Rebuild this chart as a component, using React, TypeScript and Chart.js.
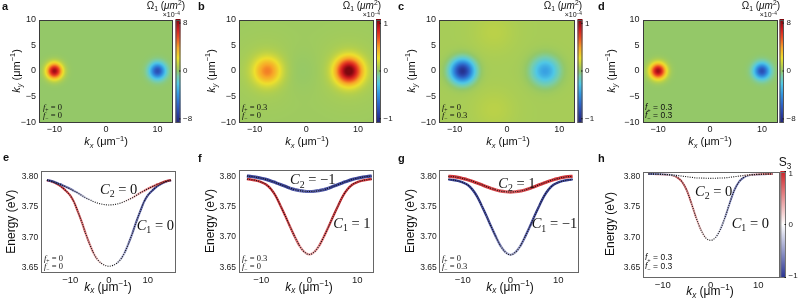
import React, { useEffect, useRef } from 'react';
import { Chart, registerables } from 'chart.js';
Chart.register(...registerables);

const SANS = '"Liberation Sans", Arial, Helvetica, sans-serif';
const SERIF = '"Liberation Serif", "Times New Roman", serif';

// ---------------- DATA ----------------
// Top row: Berry curvature maps (kx, ky in um^-1), blob centres / peaks (x1e-4 um^2) / widths
const hmXTicks = [-10, 0, 10];
const hmYTicks = [-10, -5, 0, 5, 10];

const aBlobKx = [-10, 10];
const aBlobKy = [0, 0];
const aBlobPeak = [8, -6.5];
const aBlobWidth = [1.5, 1.5];
const aBase = 0;
const aCbTicks = [8, 0, -8];

const bBlobKx = [-7.5, 8.3, -7.5, 8.3, -1];
const bBlobKy = [0, 0, 0, 0, 0];
const bBlobPeak = [0.5, 1.05, 0.05, 0.06, -0.04];
const bBlobWidth = [2.6, 2.5, 6, 6, 4];
const bBase = 0.03;
const bCbTicks = [1, 0, -1];

const cBlobKx = [-8.5, 7.3, -2.5, -2.5];
const cBlobKy = [0, 0, 7.5, -7.5];
const cBlobPeak = [-1.05, -0.5, 0.06, 0.06];
const cBlobWidth = [2.2, 2.6, 4, 4];
const cBase = 0.06;
const cCbTicks = [1, 0, -1];

const dBlobKx = [-10, 10];
const dBlobKy = [0, 0];
const dBlobPeak = [8, -6.5];
const dBlobWidth = [1.5, 1.5];
const dBase = 0;
const dCbTicks = [8, 0, -8];

// Bottom row: dispersion E(kx) in eV
const lnXTicks = [-10, 0, 10];
const lnYTicks = [3.65, 3.7, 3.75, 3.8];

const eKx = [-16, -15, -14, -13, -12, -11, -10, -9, -8, -7, -6, -5, -4, -3, -2, -1, 0, 1, 2, 3, 4, 5, 6, 7, 8, 9, 10, 11, 12, 13, 14, 15, 16];
const eUpper = [3.7945, 3.793, 3.791, 3.7885, 3.786, 3.783, 3.78, 3.7765, 3.773, 3.769, 3.765, 3.762, 3.759, 3.7565, 3.7548, 3.7537, 3.7533, 3.7537, 3.7548, 3.7565, 3.759, 3.762, 3.765, 3.769, 3.773, 3.7765, 3.78, 3.783, 3.786, 3.7885, 3.791, 3.793, 3.7945];
const eLower = [3.794, 3.7925, 3.79, 3.7865, 3.782, 3.776, 3.769, 3.758, 3.742, 3.725, 3.706, 3.689, 3.674, 3.6635, 3.657, 3.6535, 3.652, 3.6535, 3.657, 3.6635, 3.674, 3.689, 3.706, 3.725, 3.742, 3.758, 3.769, 3.776, 3.782, 3.7865, 3.79, 3.7925, 3.794];
const eUpperS3 = [-0.85, -0.85, -0.85, -0.8, -0.75, -0.7, -0.6, -0.5, -0.4, -0.3, -0.2, -0.1, -0.05, 0, 0, 0, 0, 0, 0, 0, 0.05, 0.1, 0.2, 0.3, 0.4, 0.5, 0.6, 0.7, 0.75, 0.8, 0.85, 0.85, 0.85];
const eLowerS3 = [0.85, 0.85, 0.85, 0.85, 0.85, 0.85, 0.8, 0.75, 0.7, 0.65, 0.6, 0.5, 0.4, 0.25, 0.1, 0, 0, 0, -0.1, -0.25, -0.4, -0.5, -0.6, -0.65, -0.7, -0.75, -0.8, -0.85, -0.85, -0.85, -0.85, -0.85, -0.85];

const fKx = [-13, -12, -11, -10, -9, -8, -7, -6, -5, -4, -3, -2, -1, 0, 1, 2, 3, 4, 5, 6, 7, 8, 9, 10, 11, 12, 13];
const fUpper = [3.801, 3.8003, 3.799, 3.7975, 3.7955, 3.793, 3.79, 3.787, 3.784, 3.781, 3.7785, 3.7768, 3.7758, 3.7755, 3.7758, 3.7768, 3.7785, 3.781, 3.784, 3.787, 3.79, 3.793, 3.7955, 3.7975, 3.799, 3.8003, 3.801];
const fLower = [3.796, 3.795, 3.7935, 3.791, 3.787, 3.7795, 3.768, 3.752, 3.735, 3.717, 3.7, 3.685, 3.675, 3.671, 3.675, 3.685, 3.7, 3.717, 3.735, 3.752, 3.768, 3.7795, 3.787, 3.791, 3.7935, 3.795, 3.796];
const fUpperS3 = [-0.9, -0.9, -0.9, -0.9, -0.9, -0.9, -0.9, -0.9, -0.9, -0.9, -0.85, -0.8, -0.75, -0.75, -0.75, -0.8, -0.85, -0.9, -0.9, -0.9, -0.9, -0.9, -0.9, -0.9, -0.9, -0.9, -0.9];
const fLowerS3 = [0.9, 0.9, 0.9, 0.9, 0.9, 0.9, 0.9, 0.9, 0.85, 0.8, 0.7, 0.55, 0.4, 0.35, 0.4, 0.55, 0.7, 0.8, 0.85, 0.9, 0.9, 0.9, 0.9, 0.9, 0.9, 0.9, 0.9];

const gKx = [-13, -12, -11, -10, -9, -8, -7, -6, -5, -4, -3, -2, -1, 0, 1, 2, 3, 4, 5, 6, 7, 8, 9, 10, 11, 12, 13];
const gUpper = [3.8005, 3.8, 3.7988, 3.797, 3.795, 3.7925, 3.7895, 3.7865, 3.7835, 3.7805, 3.778, 3.776, 3.775, 3.7745, 3.775, 3.776, 3.778, 3.7805, 3.7835, 3.7865, 3.7895, 3.7925, 3.795, 3.797, 3.7988, 3.8, 3.8005];
const gLower = [3.7955, 3.7945, 3.793, 3.7905, 3.7865, 3.779, 3.7675, 3.7515, 3.7345, 3.7165, 3.6995, 3.6845, 3.6745, 3.6705, 3.6745, 3.6845, 3.6995, 3.7165, 3.7345, 3.7515, 3.7675, 3.779, 3.7865, 3.7905, 3.793, 3.7945, 3.7955];
const gUpperS3 = [0.9, 0.9, 0.9, 0.9, 0.9, 0.9, 0.9, 0.9, 0.9, 0.9, 0.85, 0.8, 0.75, 0.75, 0.75, 0.8, 0.85, 0.9, 0.9, 0.9, 0.9, 0.9, 0.9, 0.9, 0.9, 0.9, 0.9];
const gLowerS3 = [-0.9, -0.9, -0.9, -0.9, -0.9, -0.9, -0.9, -0.9, -0.85, -0.8, -0.7, -0.55, -0.4, -0.35, -0.4, -0.55, -0.7, -0.8, -0.85, -0.9, -0.9, -0.9, -0.9, -0.9, -0.9, -0.9, -0.9];

const hKx = [-13, -12, -11, -10, -9, -8, -7, -6, -5, -4, -3, -2, -1, 0, 1, 2, 3, 4, 5, 6, 7, 8, 9, 10, 11, 12, 13];
const hUpper = [3.8045, 3.8045, 3.8043, 3.804, 3.8035, 3.803, 3.802, 3.801, 3.8, 3.799, 3.798, 3.7978, 3.7975, 3.7973, 3.7975, 3.7978, 3.798, 3.799, 3.8, 3.801, 3.802, 3.803, 3.8035, 3.804, 3.8043, 3.8045, 3.8045];
const hLower = [3.8045, 3.8043, 3.804, 3.8037, 3.8032, 3.8022, 3.799, 3.792, 3.778, 3.756, 3.732, 3.712, 3.699, 3.695, 3.699, 3.712, 3.732, 3.756, 3.778, 3.792, 3.799, 3.8022, 3.8032, 3.8037, 3.804, 3.8043, 3.8045];
const hUpperS3 = [-0.7, -0.6, -0.5, -0.4, -0.3, -0.2, -0.1, 0, 0, 0, 0, 0, 0, 0, 0, 0, 0, 0, 0, 0, 0.1, 0.2, 0.3, 0.4, 0.5, 0.6, 0.6];
const hLowerS3 = [0.5, 0.5, 0.5, 0.5, 0.55, 0.6, 0.65, 0.65, 0.6, 0.5, 0.35, 0.2, 0.05, 0, -0.05, -0.2, -0.35, -0.5, -0.6, -0.65, -0.65, -0.6, -0.55, -0.5, -0.5, -0.5, -0.5];
const s3CbTicks = [1, 0, -1];

// ---------------- STYLE HELPERS ----------------
type Seg = { t: string; i?: boolean; s?: 'sub' | 'sup' };
type TextItem = { segs: Seg[]; x: number; y: number; size: number; family?: string; bold?: boolean; align?: 'left' | 'center' | 'right'; rot?: number; color?: string };

function drawRich(ctx: CanvasRenderingContext2D, it: TextItem, ox: number, oy: number) {
  const fam = it.family || SANS;
  const fontOf = (s: Seg) => `${s.i ? 'italic ' : ''}${it.bold ? 'bold ' : ''}${s.s ? it.size * 0.68 : it.size}px ${fam}`;
  ctx.save();
  ctx.translate(it.x - ox, it.y - oy);
  if (it.rot) ctx.rotate(it.rot);
  let w = 0;
  const ws = it.segs.map((s) => { ctx.font = fontOf(s); const m = ctx.measureText(s.t).width; w += m; return m; });
  let cx = it.align === 'center' ? -w / 2 : it.align === 'right' ? -w : 0;
  ctx.textBaseline = 'alphabetic';
  ctx.fillStyle = it.color || '#111';
  const base = it.size * 0.35;
  it.segs.forEach((s, k) => {
    ctx.font = fontOf(s);
    const dy = s.s === 'sub' ? it.size * 0.22 : s.s === 'sup' ? -it.size * 0.4 : 0;
    ctx.fillText(s.t, cx, base + dy);
    cx += ws[k];
  });
  ctx.restore();
}

const JET: [number, number[]][] = [
  [-1.0, [35, 38, 120]],
  [-0.85, [40, 60, 160]],
  [-0.65, [45, 100, 200]],
  [-0.45, [50, 150, 225]],
  [-0.25, [80, 200, 230]],
  [-0.1, [120, 205, 170]],
  [0.0, [148, 200, 104]],
  [0.1, [182, 208, 75]],
  [0.25, [238, 224, 45]],
  [0.45, [248, 165, 40]],
  [0.65, [235, 75, 35]],
  [0.82, [205, 25, 30]],
  [1.0, [125, 8, 15]],
];
function jet(t: number): number[] {
  t = Math.max(-1, Math.min(1, t));
  for (let k = 0; k < JET.length - 1; k++) {
    const [t0, c0] = JET[k];
    const [t1, c1] = JET[k + 1];
    if (t <= t1) {
      const f = (t - t0) / (t1 - t0);
      return [0, 1, 2].map((j) => Math.round(c0[j] + (c1[j] - c0[j]) * f));
    }
  }
  return JET[JET.length - 1][1];
}
function s3Rgb(v: number): number[] {
  const a = Math.min(1, Math.abs(v));
  const end = v >= 0 ? [205, 35, 40] : [40, 50, 145];
  return [0, 1, 2].map((k) => Math.round(255 + (end[k] - 255) * a));
}
const s3Color = (v: number) => `rgb(${s3Rgb(v).join(',')})`;
const fmtNum = (v: number) => (v < 0 ? '\u2212' + Math.abs(v) : String(v));

const kxTitle: Seg[] = [{ t: 'k', i: true }, { t: 'x', i: true, s: 'sub' }, { t: ' (\u03bcm' }, { t: '\u22121', s: 'sup' }, { t: ')' }];
const kyTitle: Seg[] = [{ t: 'k', i: true }, { t: 'y', i: true, s: 'sub' }, { t: ' (\u03bcm' }, { t: '\u22121', s: 'sup' }, { t: ')' }];
const omegaTitle: Seg[] = [{ t: '\u03a9' }, { t: '1', s: 'sub' }, { t: ' (' }, { t: '\u03bcm', i: true }, { t: '2', s: 'sup' }, { t: ')' }];
const expTitle: Seg[] = [{ t: '\u00d710' }, { t: '\u22124', s: 'sup' }];
const fp = (v: string): Seg[] => [{ t: 'f', i: true }, { t: '+', s: 'sub' }, { t: ' = ' + v }];
const fm = (v: string): Seg[] => [{ t: 'f', i: true }, { t: '\u2212', s: 'sub' }, { t: ' = ' + v }];
const cLab = (n: string, v: string): Seg[] => [{ t: 'C', i: true }, { t: n, s: 'sub' }, { t: ' = ' + v }];

type Box = { x: number; y: number; w: number; h: number };
type Area = { l: number; t: number; r: number; b: number };

function axisCommon(ticks: number[], fmt: (v: number) => string, size: number, pad: number, fit: (s: any) => void, min: number, max: number) {
  return {
    type: 'linear' as const,
    min,
    max,
    afterBuildTicks: (s: any) => { s.ticks = ticks.map((v) => ({ value: v })); },
    afterFit: fit,
    ticks: { callback: (v: any) => fmt(Number(v)), font: { family: SANS, size }, color: '#1a1a1a', padding: pad, maxRotation: 0, autoSkip: false },
    grid: { display: false, drawTicks: false },
    border: { display: false },
  };
}

// ---------------- HEATMAP PANELS ----------------
type HeatPanel = {
  box: Box; area: Area; kx: number[]; ky: number[]; peak: number[]; width: number[]; base: number;
  cbRange: number; cbTicks: number[]; cbL: number; cbR: number; texts: TextItem[];
};

function heatConfig(p: HeatPanel) {
  const { box, area } = p;
  const plugin = {
    id: 'heat',
    beforeDatasetsDraw(chart: any) {
      const ca = chart.chartArea;
      const ctx: CanvasRenderingContext2D = chart.ctx;
      const w = Math.round(ca.right - ca.left);
      const h = Math.round(ca.bottom - ca.top);
      const off = document.createElement('canvas');
      off.width = w; off.height = h;
      const octx = off.getContext('2d')!;
      const img = octx.createImageData(w, h);
      const xs = chart.scales.x, ys = chart.scales.y;
      const pts = chart.data.datasets[0].data as { x: number; y: number }[];
      for (let j = 0; j < h; j++) {
        const ky = ys.getValueForPixel(ca.top + j + 0.5);
        for (let i = 0; i < w; i++) {
          const kx = xs.getValueForPixel(ca.left + i + 0.5);
          let v = p.base;
          pts.forEach((pt, k) => {
            const r2 = (kx - pt.x) ** 2 + (ky - pt.y) ** 2;
            v += p.peak[k] * Math.exp(-r2 / (p.width[k] * p.width[k]));
          });
          const c = jet(v / p.cbRange);
          const o = (j * w + i) * 4;
          img.data[o] = c[0]; img.data[o + 1] = c[1]; img.data[o + 2] = c[2]; img.data[o + 3] = 255;
        }
      }
      octx.putImageData(img, 0, 0);
      ctx.drawImage(off, ca.left, ca.top, ca.right - ca.left, ca.bottom - ca.top);
    },
    afterDraw(chart: any) {
      const ca = chart.chartArea;
      const ctx: CanvasRenderingContext2D = chart.ctx;
      ctx.save();
      ctx.strokeStyle = '#3a3a3a';
      ctx.lineWidth = 1;
      ctx.strokeRect(Math.round(ca.left) + 0.5, Math.round(ca.top) + 0.5, Math.round(ca.right - ca.left) - 1, Math.round(ca.bottom - ca.top) - 1);
      // colorbar
      const cl = p.cbL - box.x, cr = p.cbR - box.x;
      const top = ca.top, bot = ca.bottom;
      for (let yy = Math.floor(top); yy < bot; yy++) {
        const t = 1 - (yy + 0.5 - top) / (bot - top);
        const c = jet(t * 2 - 1);
        ctx.fillStyle = `rgb(${c.join(',')})`;
        ctx.fillRect(cl, yy, cr - cl, 1);
      }
      ctx.strokeStyle = '#555';
      ctx.strokeRect(cl + 0.5, Math.round(top) + 0.5, cr - cl - 1, Math.round(bot - top) - 1);
      ctx.fillStyle = '#1a1a1a';
      ctx.font = `8px ${SANS}`;
      ctx.textBaseline = 'middle';
      ctx.textAlign = 'left';
      p.cbTicks.forEach((v) => {
        const yy = bot - ((v / p.cbRange + 1) / 2) * (bot - top);
        ctx.fillRect(cr - 1.5, yy - 0.5, 1.5, 1);
        ctx.fillText(fmtNum(v), cr + 2.5, yy);
      });
      ctx.restore();
      p.texts.forEach((t) => drawRich(ctx, t, box.x, box.y));
    },
  };
  return {
    type: 'scatter' as const,
    data: { datasets: [{ data: p.kx.map((x, i) => ({ x, y: p.ky[i] })), pointRadius: 0, showLine: false }] },
    options: {
      animation: false as const,
      responsive: false,
      events: [],
      layout: { padding: { left: 0, top: area.t - box.y, right: box.x + box.w - area.r, bottom: 0 } },
      scales: {
        x: axisCommon(hmXTicks, fmtNum, 9, 2, (s: any) => { s.height = box.y + box.h - area.b; }, -13, 13),
        y: axisCommon(hmYTicks, fmtNum, 9, 3, (s: any) => { s.width = area.l - box.x; }, -10, 10),
      },
      plugins: { legend: { display: false }, tooltip: { enabled: false } },
    },
    plugins: [plugin],
  };
}

// ---------------- LINE PANELS ----------------
type LinePanel = {
  box: Box; area: Area; xMin: number; xMax: number; yMin: number; yMax: number;
  kx: number[]; upper: number[]; lower: number[]; upperS3: number[]; lowerS3: number[];
  wU: number; wL: number; texts: TextItem[]; cb?: { l: number; r: number };
};

function lineConfig(p: LinePanel) {
  const { box, area } = p;
  const mk = (ys: number[]) => p.kx.map((x, i) => ({ x, y: ys[i] }));
  const colored = (ys: number[], s3: number[], w: number) => ({
    data: mk(ys),
    borderWidth: w,
    borderColor: s3Color(s3[0]),
    segment: { borderColor: (ctx: any) => s3Color((s3[ctx.p0DataIndex] + s3[ctx.p1DataIndex]) / 2) },
    pointRadius: 0,
    cubicInterpolationMode: 'monotone' as const,
    fill: false,
  });
  const dotted = (ys: number[]) => ({
    data: mk(ys),
    borderWidth: 1.1,
    borderColor: '#111',
    borderDash: [1, 1.3],
    pointRadius: 0,
    cubicInterpolationMode: 'monotone' as const,
    fill: false,
  });
  const plugin = {
    id: 'lineOverlay',
    afterDraw(chart: any) {
      const ca = chart.chartArea;
      const ctx: CanvasRenderingContext2D = chart.ctx;
      ctx.save();
      ctx.strokeStyle = '#666';
      ctx.lineWidth = 1;
      ctx.strokeRect(Math.round(ca.left) + 0.5, Math.round(ca.top) + 0.5, Math.round(ca.right - ca.left) - 1, Math.round(ca.bottom - ca.top) - 1);
      if (p.cb) {
        const cl = p.cb.l - box.x, cr = p.cb.r - box.x;
        const top = ca.top, bot = ca.bottom;
        for (let yy = Math.floor(top); yy < bot; yy++) {
          const t = 1 - (yy + 0.5 - top) / (bot - top);
          ctx.fillStyle = s3Color(t * 2 - 1);
          ctx.fillRect(cl, yy, cr - cl, 1);
        }
        ctx.strokeStyle = '#777';
        ctx.strokeRect(cl + 0.5, Math.round(top) + 0.5, cr - cl - 1, Math.round(bot - top) - 1);
        ctx.fillStyle = '#1a1a1a';
        ctx.font = `8px ${SANS}`;
        ctx.textBaseline = 'middle';
        ctx.textAlign = 'left';
        s3CbTicks.forEach((v) => {
          const yy = bot - ((v + 1) / 2) * (bot - top);
          ctx.fillRect(cr - 1.5, yy - 0.5, 1.5, 1);
          ctx.fillText(fmtNum(v), cr + 2.5, Math.min(bot - 2, Math.max(top + 2, yy)));
        });
      }
      ctx.restore();
      p.texts.forEach((t) => drawRich(ctx, t, box.x, box.y));
    },
  };
  // Chart.js draws dataset 0 last (on top): put dotted overlays first.
  return {
    type: 'line' as const,
    data: {
      datasets: [
        dotted(p.upper),
        dotted(p.lower),
        colored(p.upper, p.upperS3, p.wU),
        colored(p.lower, p.lowerS3, p.wL),
      ],
    },
    options: {
      animation: false as const,
      responsive: false,
      events: [],
      layout: { padding: { left: 0, top: area.t - box.y, right: box.x + box.w - area.r, bottom: 0 } },
      scales: {
        x: axisCommon(lnXTicks, fmtNum, 9.5, 2, (s: any) => { s.height = box.y + box.h - area.b; }, p.xMin, p.xMax),
        y: axisCommon(lnYTicks, (v) => v.toFixed(2), 8.5, 2.5, (s: any) => { s.width = area.l - box.x; }, p.yMin, p.yMax),
      },
      plugins: { legend: { display: false }, tooltip: { enabled: false } },
    },
    plugins: [plugin],
  };
}

// ---------------- PANEL LAYOUT ----------------
const letter = (t: string, x: number, y: number): TextItem => ({ segs: [{ t }], x, y, size: 11, bold: true });
const TT = 11; // top axis title size
const BT = 12; // bottom axis title size

const heatPanels: HeatPanel[] = [
  {
    box: { x: 0, y: 0, w: 197, h: 150 }, area: { l: 39, t: 19.5, r: 173, b: 122.5 },
    kx: aBlobKx, ky: aBlobKy, peak: aBlobPeak, width: aBlobWidth, base: aBase, cbRange: 8.6, cbTicks: aCbTicks, cbL: 175.5, cbR: 180.5,
    texts: [
      letter('a', 2, 6),
      { segs: kyTitle, x: 16, y: 71, size: TT, align: 'center', rot: -Math.PI / 2 },
      { segs: kxTitle, x: 106, y: 141.5, size: TT, align: 'center' },
      { segs: omegaTitle, x: 185, y: 5, size: 10, align: 'right' },
      { segs: expTitle, x: 180, y: 15, size: 7, align: 'right' },
      { segs: fp('0'), x: 43, y: 107, size: 8.5, family: SERIF },
      { segs: fm('0'), x: 43, y: 115.5, size: 8.5, family: SERIF },
    ],
  },
  {
    box: { x: 197, y: 0, w: 200, h: 150 }, area: { l: 239, t: 19.5, r: 373.5, b: 122.5 },
    kx: bBlobKx, ky: bBlobKy, peak: bBlobPeak, width: bBlobWidth, base: bBase, cbRange: 1.08, cbTicks: bCbTicks, cbL: 376, cbR: 381,
    texts: [
      letter('b', 198, 6),
      { segs: kyTitle, x: 211, y: 71, size: TT, align: 'center', rot: -Math.PI / 2 },
      { segs: kxTitle, x: 307, y: 141.5, size: TT, align: 'center' },
      { segs: omegaTitle, x: 381, y: 5, size: 10, align: 'right' },
      { segs: expTitle, x: 380, y: 15, size: 7, align: 'right' },
      { segs: fp('0.3'), x: 242, y: 106.7, size: 8.5, family: SERIF },
      { segs: fm('0'), x: 242, y: 114.8, size: 8.5, family: SERIF },
    ],
  },
  {
    box: { x: 397, y: 0, w: 200, h: 150 }, area: { l: 439, t: 19.5, r: 575, b: 122.5 },
    kx: cBlobKx, ky: cBlobKy, peak: cBlobPeak, width: cBlobWidth, base: cBase, cbRange: 1.08, cbTicks: cCbTicks, cbL: 577.5, cbR: 582.5,
    texts: [
      letter('c', 398, 6),
      { segs: kyTitle, x: 411, y: 71, size: TT, align: 'center', rot: -Math.PI / 2 },
      { segs: kxTitle, x: 508, y: 141.5, size: TT, align: 'center' },
      { segs: omegaTitle, x: 582, y: 5, size: 10, align: 'right' },
      { segs: expTitle, x: 582, y: 15, size: 7, align: 'right' },
      { segs: fp('0'), x: 442, y: 107, size: 8.5, family: SERIF },
      { segs: fm('0.3'), x: 442, y: 115.5, size: 8.5, family: SERIF },
    ],
  },
  {
    box: { x: 597, y: 0, w: 201, h: 150 }, area: { l: 642.5, t: 19.5, r: 777.5, b: 122.5 },
    kx: dBlobKx, ky: dBlobKy, peak: dBlobPeak, width: dBlobWidth, base: dBase, cbRange: 8.6, cbTicks: dCbTicks, cbL: 779.5, cbR: 784,
    texts: [
      letter('d', 598, 6),
      { segs: kyTitle, x: 611, y: 71, size: TT, align: 'center', rot: -Math.PI / 2 },
      { segs: kxTitle, x: 710, y: 141.5, size: TT, align: 'center' },
      { segs: omegaTitle, x: 780, y: 5, size: 10, align: 'right' },
      { segs: expTitle, x: 777, y: 15, size: 7, align: 'right' },
      { segs: fp('0.3'), x: 645, y: 107, size: 8.5 },
      { segs: fm('0.3'), x: 645, y: 115.2, size: 8.5 },
    ],
  },
];

const energyTitle: Seg[] = [{ t: 'Energy (eV)' }];

const linePanels: LinePanel[] = [
  {
    box: { x: 0, y: 150, w: 197, h: 149 }, area: { l: 40.7, t: 170.7, r: 175.7, b: 272.7 },
    xMin: -17.6, xMax: 17.2, yMin: 3.6414, yMax: 3.8099,
    kx: eKx, upper: eUpper, lower: eLower, upperS3: eUpperS3, lowerS3: eLowerS3, wU: 2.2, wL: 2.2,
    texts: [
      letter('e', 3, 157),
      { segs: energyTitle, x: 10.7, y: 221.7, size: BT, align: 'center', rot: -Math.PI / 2 },
      { segs: kxTitle, x: 108, y: 286.5, size: BT, align: 'center' },
      { segs: fp('0'), x: 44, y: 258, size: 8.5, family: SERIF },
      { segs: fm('0'), x: 44, y: 266, size: 8.5, family: SERIF },
      { segs: cLab('2', '0'), x: 100, y: 189, size: 14.5, family: SERIF },
      { segs: cLab('1', '0'), x: 136.7, y: 225, size: 14.5, family: SERIF },
    ],
  },
  {
    box: { x: 197, y: 150, w: 200, h: 149 }, area: { l: 238.5, t: 169.5, r: 373, b: 272.5 },
    xMin: -14.75, xMax: 13.27, yMin: 3.6413, yMax: 3.8119,
    kx: fKx, upper: fUpper, lower: fLower, upperS3: fUpperS3, lowerS3: fLowerS3, wU: 3.2, wL: 2.4,
    texts: [
      letter('f', 198, 158),
      { segs: energyTitle, x: 210, y: 221, size: BT, align: 'center', rot: -Math.PI / 2 },
      { segs: kxTitle, x: 309, y: 286.5, size: BT, align: 'center' },
      { segs: fp('0.3'), x: 242, y: 258, size: 8.5, family: SERIF },
      { segs: fm('0'), x: 242, y: 266.5, size: 8.5, family: SERIF },
      { segs: cLab('2', '\u22121'), x: 290, y: 179.3, size: 14.5, family: SERIF },
      { segs: cLab('1', '1'), x: 333.3, y: 222.5, size: 14.5, family: SERIF },
    ],
  },
  {
    box: { x: 397, y: 150, w: 200, h: 149 }, area: { l: 439.3, t: 169.5, r: 579.3, b: 272.5 },
    xMin: -14.9, xMax: 14.4, yMin: 3.6413, yMax: 3.8119,
    kx: gKx, upper: gUpper, lower: gLower, upperS3: gUpperS3, lowerS3: gLowerS3, wU: 3.2, wL: 2.4,
    texts: [
      letter('g', 398, 158),
      { segs: energyTitle, x: 410, y: 221, size: BT, align: 'center', rot: -Math.PI / 2 },
      { segs: kxTitle, x: 510, y: 286.5, size: BT, align: 'center' },
      { segs: fp('0'), x: 442, y: 258, size: 8.5, family: SERIF },
      { segs: fm('0.3'), x: 442, y: 266.5, size: 8.5, family: SERIF },
      { segs: cLab('2', '1'), x: 498.3, y: 182.5, size: 14.5, family: SERIF },
      { segs: cLab('1', '\u22121'), x: 531.7, y: 223.3, size: 14.5, family: SERIF },
    ],
  },
  {
    box: { x: 597, y: 150, w: 201, h: 149 }, area: { l: 642.7, t: 171.5, r: 779.3, b: 277.5 },
    xMin: -14.2, xMax: 14.4, yMin: 3.6335, yMax: 3.8086,
    kx: hKx, upper: hUpper, lower: hLower, upperS3: hUpperS3, lowerS3: hLowerS3, wU: 2, wL: 2,
    cb: { l: 780.3, r: 786 },
    texts: [
      letter('h', 598, 158),
      { segs: energyTitle, x: 610, y: 224, size: BT, align: 'center', rot: -Math.PI / 2 },
      { segs: kxTitle, x: 710, y: 291, size: BT, align: 'center' },
      { segs: [{ t: 'S' }, { t: '3', s: 'sub' }], x: 785, y: 162, size: 12, align: 'center' },
      { segs: fp('0.3'), x: 645, y: 257.3, size: 8.5 },
      { segs: fm('0.3'), x: 645, y: 266, size: 8.5 },
      { segs: cLab('2', '0'), x: 695, y: 190.8, size: 14.5, family: SERIF },
      { segs: cLab('1', '0'), x: 731.7, y: 222.5, size: 14.5, family: SERIF },
    ],
  },
];

function ChartCanvas({ box, make }: { box: Box; make: () => any }) {
  const ref = useRef<HTMLCanvasElement | null>(null);
  useEffect(() => {
    if (!ref.current) return;
    const chart = new Chart(ref.current, make());
    return () => chart.destroy();
  }, []);
  return <canvas ref={ref} width={box.w} height={box.h} style={{ position: 'absolute', left: box.x, top: box.y, width: box.w, height: box.h }} />;
}

export default function App() {
  return (
    <div style={{ position: 'fixed', left: 0, top: 0, width: 798, height: 299, background: '#fff', overflow: 'hidden' }}>
      {heatPanels.map((p, i) => (
        <ChartCanvas key={'h' + i} box={p.box} make={() => heatConfig(p)} />
      ))}
      {linePanels.map((p, i) => (
        <ChartCanvas key={'l' + i} box={p.box} make={() => lineConfig(p)} />
      ))}
    </div>
  );
}
